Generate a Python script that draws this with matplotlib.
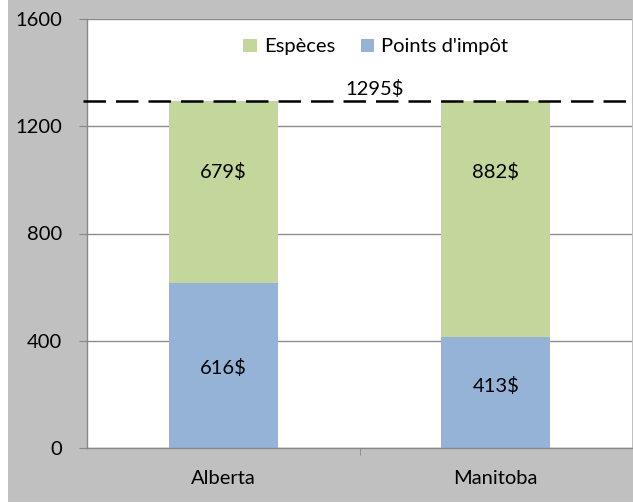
import numpy as np
import matplotlib
matplotlib.use('Agg')
from matplotlib import pyplot as plt
from matplotlib.patches import Rectangle

provinces = ['Alberta', 'Manitoba']
points_impot = [616, 413]
especes = [679, 882]
total = 1295
yticks = [0, 400, 800, 1200, 1600]
# label heights
label_y_especes = [1030, 1030]
label_y_points = [298, 231]

plt.rcParams['font.family'] = ['Lato', 'DejaVu Sans']
plt.rcParams['font.size'] = 14.5

fig = plt.figure(figsize=(6.33, 5.03), dpi=100)
fig.patch.set_facecolor('white')
fig.patches.append(Rectangle((8/633, 1/503), 1, 1, transform=fig.transFigure,
                             facecolor='#c0c0c0', edgecolor='none', zorder=-10))

ax = fig.add_axes([87/633, 55/503, 545/633, 429/503])
ax.set_facecolor('white')

x = np.arange(len(provinces))
green = '#c3d69b'
blue = '#95b3d7'
ax.bar(x, points_impot, width=0.4, color=blue, label="Points d'impôt", zorder=2)
ax.bar(x, especes, width=0.4, bottom=points_impot, color=green, label='Espèces', zorder=2)

for i in range(len(provinces)):
    ax.text(x[i], label_y_especes[i], f'{especes[i]}$', ha='center', va='center', zorder=3)
    ax.text(x[i], label_y_points[i], f'{points_impot[i]}$', ha='center', va='center', zorder=3)

ax.hlines(total, -0.008, 1, transform=ax.get_yaxis_transform(), colors='black',
          linestyles=(0, (9, 4)), linewidth=1.8, clip_on=False, zorder=4)
ax.text(0.557, total + 45, f'{total}$', ha='center', va='center')

ax.set_xlim(-0.5, 1.5)
ax.set_ylim(0, 1600)
ax.set_yticks(yticks)
ax.set_xticks([0.5], minor=True)
ax.set_xticks(x)
ax.set_xticklabels(provinces)
ax.tick_params(axis='x', which='major', length=0, pad=16)
ax.tick_params(axis='x', which='minor', length=5, color='#888888', direction='out')
ax.tick_params(axis='y', length=6, color='#888888', pad=12)
ax.yaxis.grid(True, color='#8c8c8c', linewidth=1, zorder=0)
ax.set_axisbelow(True)
for s in ['top', 'right']:
    ax.spines[s].set_visible(False)
for s in ['left', 'bottom']:
    ax.spines[s].set_color('#888888')
    ax.spines[s].set_linewidth(1)
ax.spines['bottom'].set_zorder(5)

handles, labels = ax.get_legend_handles_labels()
leg = ax.legend(handles[::-1], labels[::-1], loc='center', bbox_to_anchor=(0.53, 0.935),
                ncol=2, frameon=False, handlelength=0.65, handleheight=0.65,
                handletextpad=0.35, columnspacing=1.3)

fig.savefig('out.png', dpi=100, facecolor=fig.get_facecolor())
